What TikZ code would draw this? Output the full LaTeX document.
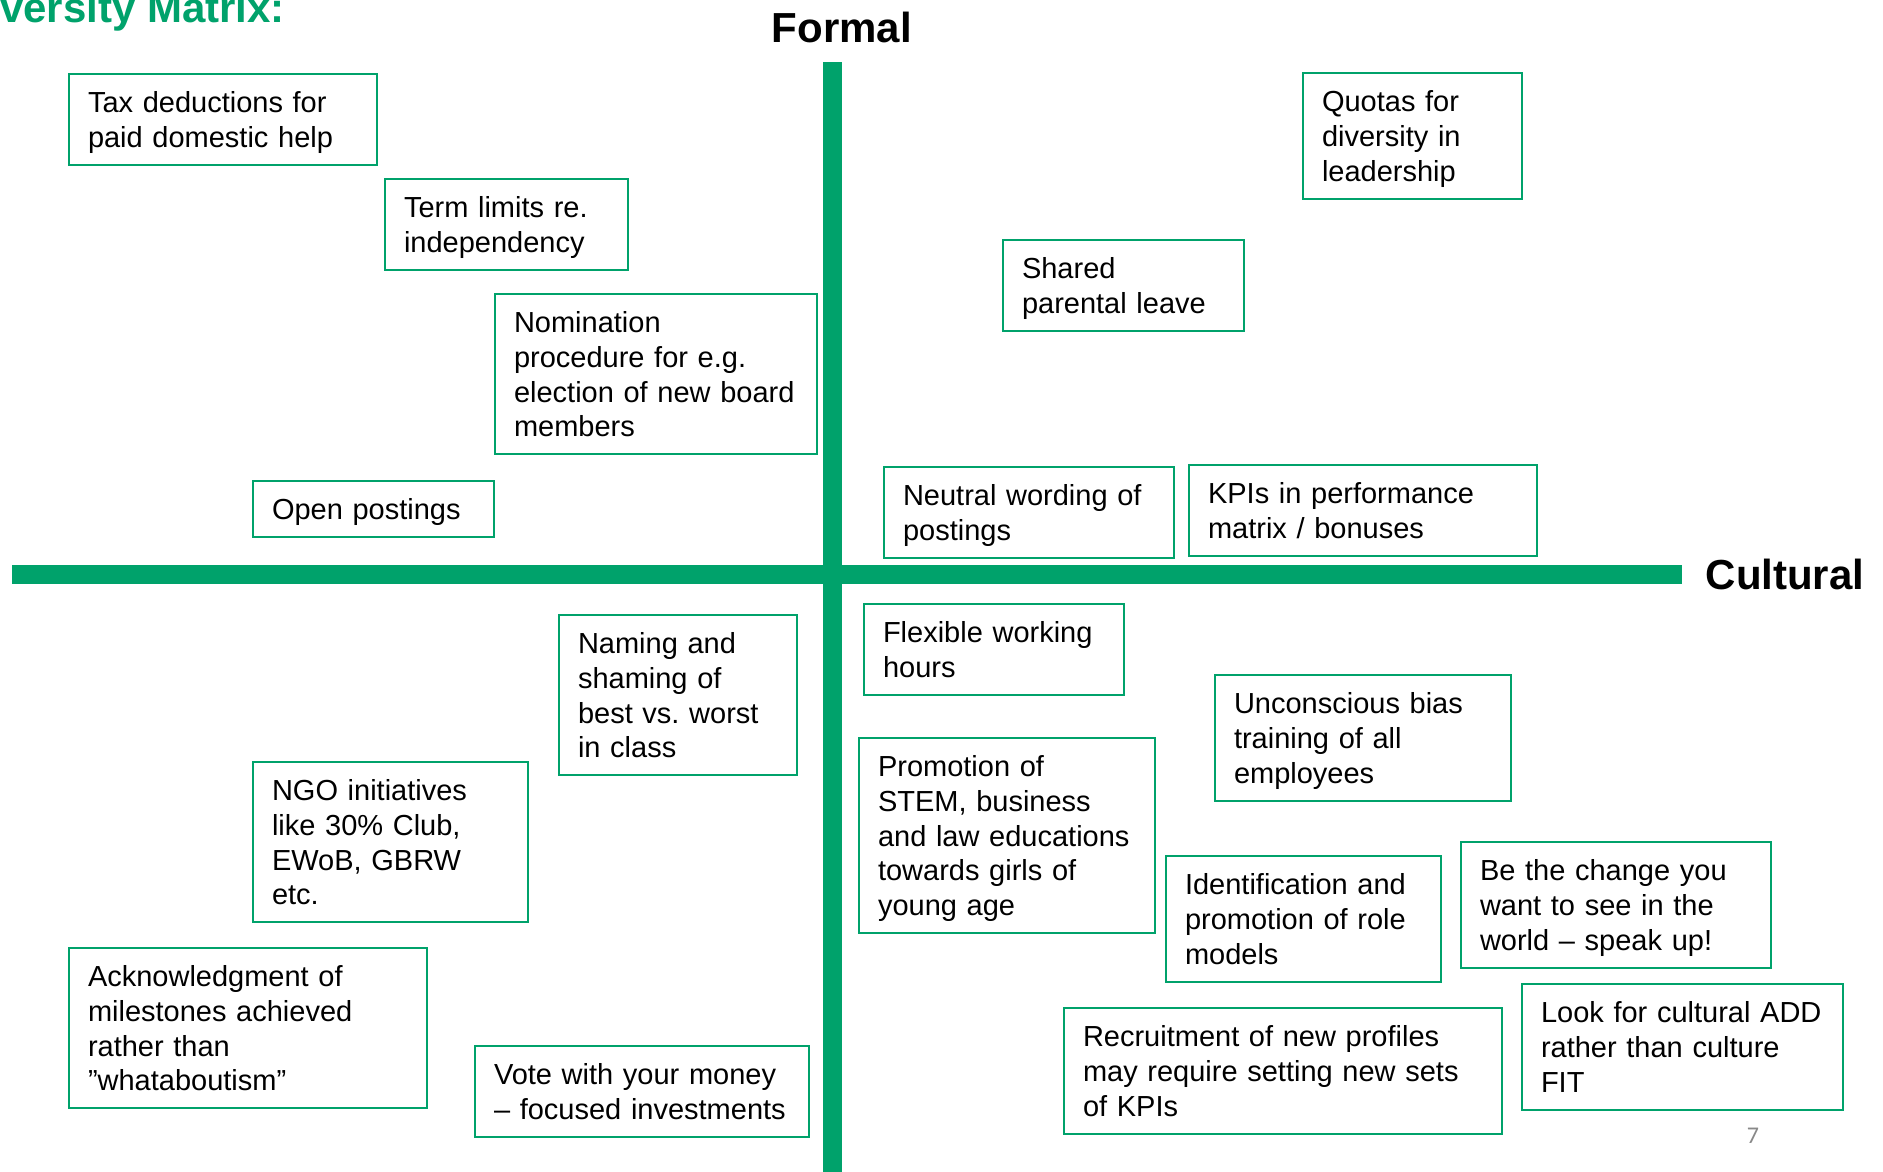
\documentclass[tikz,border=0pt]{standalone}
\usepackage{fontspec}
\setmainfont{Liberation Sans}
\newfontfamily\carlitofont{Carlito}
\frenchspacing
\definecolor{mgreen}{RGB}{0,162,107}
\definecolor{pgray}{RGB}{137,137,137}
\tikzset{
  axisline/.style={draw=mgreen, line width=18.5pt, line cap=butt},
  axislabel/.style={font=\bfseries\fontsize{42}{48}\selectfont, inner sep=0pt, anchor=base},
  box/.style 2 args={draw=mgreen, line width=2pt, fill=white, anchor=north west,
    align=left, inner xsep=19pt, inner ysep=17.6pt, text height=20.8pt,
    font=\fontsize{29}{34.8}\selectfont, text width=#1, text depth=#2},
}
\begin{document}
\begin{tikzpicture}[x=1pt,y=-1pt]
\useasboundingbox (0,0) rectangle (1883,1171);
% axes
\coordinate (vtop) at (832.5,62);
\coordinate (vbot) at (832.5,1180);
\coordinate (hleft) at (12,574.5);
\coordinate (hright) at (1682,574.5);
\draw[axisline] (vtop) -- (vbot);
\draw[axisline] (hleft) -- (hright);
% labels
\node[font=\bfseries\fontsize{42}{48}\selectfont, text=mgreen, inner sep=0pt, anchor=base west] (title) at (0,22) {versity Matrix:};
\node[axislabel] (formal) at (842,42.7) {Formal};
\node[axislabel] (cultural) at (1785,589) {Cultural};
\node[font=\carlitofont\fontsize{24}{24}\selectfont, text=pgray, inner sep=0pt, anchor=base] (pagenum) at (1753,1143) {7};
% boxes (upper left)
\node[box={270pt}{34.8pt}] (b1) at (68,73) {Tax deductions for\\paid domestic help};
\node[box={205pt}{34.8pt}] (b2) at (384,178) {Term limits re.\\independency};
\node[box={284pt}{104.4pt}] (b3) at (494,293) {Nomination\\procedure for e.g.\\election of new board\\members};
\node[box={203pt}{0pt}] (b4) at (252,480) {Open postings};
% upper right
\node[box={181pt}{69.6pt}] (b5) at (1302,72) {Quotas for\\diversity in\\leadership};
\node[box={203pt}{34.8pt}] (b6) at (1002,239) {Shared\\parental leave};
\node[box={252pt}{34.8pt}] (b7) at (883,466) {Neutral wording of\\postings};
\node[box={310pt}{34.8pt}] (b8) at (1188,464) {KPIs in performance\\matrix / bonuses};
% lower left
\node[box={200pt}{104.4pt}] (b9) at (558,614) {Naming and\\shaming of\\best vs. worst\\in class};
\node[box={237pt}{104.4pt}] (b12) at (252,761) {NGO initiatives\\like 30\% Club,\\EWoB, GBRW\\etc.};
\node[box={320pt}{104.4pt}] (b16) at (68,947) {Acknowledgment of\\milestones achieved\\rather than\\”whataboutism”};
\node[box={296pt}{34.8pt}] (b17) at (474,1045) {Vote with your money\\– focused investments};
% lower right
\node[box={222pt}{34.8pt}] (b10) at (863,603) {Flexible working\\hours};
\node[box={258pt}{69.6pt}] (b11) at (1214,674) {Unconscious bias\\training of all\\employees};
\node[box={258pt}{139.2pt}] (b13) at (858,737) {Promotion of\\STEM, business\\and law educations\\towards girls of\\young age};
\node[box={237pt}{69.6pt}] (b14) at (1165,855) {Identification and\\promotion of role\\models};
\node[box={272pt}{69.6pt}] (b15) at (1460,841) {Be the change you\\want to see in the\\world – speak up!};
\node[box={400pt}{69.6pt}] (b18) at (1063,1007) {Recruitment of new profiles\\may require setting new sets\\of KPIs};
\node[box={283pt}{69.6pt}] (b19) at (1521,983) {Look for cultural ADD\\rather than culture\\FIT};
\end{tikzpicture}
\end{document}
